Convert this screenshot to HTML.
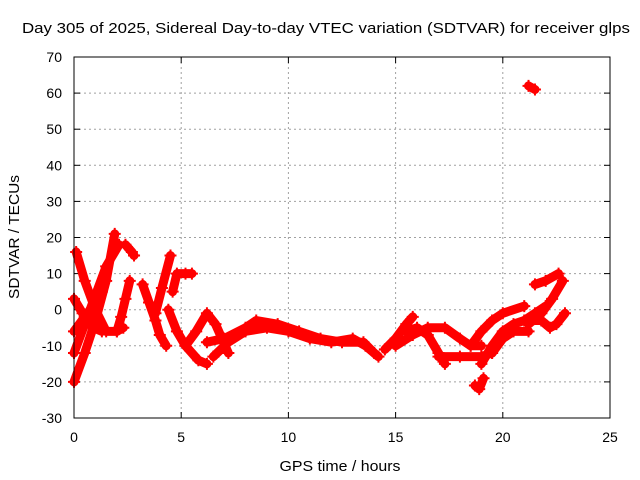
<!DOCTYPE html>
<html><head><meta charset="utf-8"><style>
html,body{margin:0;padding:0;background:#fff;}
svg{display:block;font-family:"Liberation Sans",sans-serif;}
</style></head><body>
<svg id="chart" width="640" height="480">
<text x="22" y="33" font-size="15" textLength="608" lengthAdjust="spacingAndGlyphs">Day 305 of 2025, Sidereal Day-to-day VTEC variation (SDTVAR) for receiver glps</text>
<text x="340" y="471" font-size="15" textLength="121" lengthAdjust="spacingAndGlyphs" text-anchor="middle">GPS time / hours</text>
<text transform="translate(19,237) rotate(-90)" font-size="15" textLength="124" lengthAdjust="spacingAndGlyphs" text-anchor="middle">SDTVAR / TECUs</text>
<g id="grid"></g>
<g id="ticks"></g>
<g id="series"></g>
<rect x="74" y="57" width="536" height="361" fill="none" stroke="#000" stroke-width="1"/>
</svg>
<script>
const xTicks=[0,5,10,15,20,25];
const yTicks=[-30,-20,-10,0,10,20,30,40,50,60,70];
const track1=[[0,-20],[0.5,-12],[1,-3],[1.5,8],[1.9,21]];
const track2=[[0.1,16],[0.5,8],[1,0],[1.5,-6],[2,-6],[2.3,-5]];
const track3=[[0,-12],[0.5,-4],[1,4],[1.5,12],[2.1,18]];
const track4=[[0,3],[0.4,-1],[0.9,-5],[1.3,-6]];
const track5=[[0,-6],[0.5,-2],[1,2],[1.3,5]];
const track6=[[2.0,-6],[2.2,-2],[2.4,3],[2.6,8]];
const track7=[[2.4,18],[2.7,16],[2.8,15]];
const track8=[[3.2,7],[3.5,2],[3.8,-3],[4.0,-7],[4.3,-10]];
const track9=[[3.8,-1],[4.1,6],[4.5,15]];
const track10=[[4.6,5],[4.8,10],[5.2,10],[5.5,10]];
const track11=[[4.4,0],[4.8,-6],[5.2,-10],[5.8,-14],[6.2,-15]];
const track12=[[5.2,-10],[5.7,-6],[6.2,-1],[6.6,-4],[7.2,-12]];
const track13=[[6.2,-9],[7,-8],[8,-5],[8.5,-3],[9.5,-4],[10.5,-6],[11.5,-8],[12.5,-9],[13.5,-9],[14,-12]];
const track14=[[6.5,-13],[7.2,-9],[8,-6],[9,-5],[10,-6],[11,-8],[12,-9],[13,-8],[13.6,-10],[14.2,-13]];
const track15=[[14.5,-11],[15,-8],[15.5,-4],[15.8,-2]];
const track16=[[15,-10],[15.8,-7],[16.5,-5],[17.3,-5],[18,-8],[18.5,-10],[19,-10]];
const track17=[[15.5,-6],[16,-5],[16.5,-7],[17,-12],[17.3,-15]];
const track18=[[17,-13],[18,-13],[19,-13],[19.5,-12]];
const track19=[[18.7,-21],[18.9,-22],[19.1,-19]];
const track20=[[18.5,-10],[19,-6],[19.5,-3],[20,-1],[21,1]];
const track21=[[19,-15],[19.5,-10],[20,-6],[20.5,-4],[21,-3],[21.5,-1],[22,1]];
const track22=[[19.5,-12],[20,-8],[20.5,-6],[21.2,-6]];
const track23=[[21.2,-3],[21.8,-3],[22.2,-5],[22.5,-4],[22.9,-1]];
const track24=[[21.2,-4],[21.8,-1],[22.3,3],[22.8,8]];
const track25=[[21.5,7],[22,8],[22.6,10]];
const track26=[[21.2,62],[21.5,61]];
const tracks=[track1,track2,track3,track4,track5,track6,track7,track8,track9,track10,track11,track12,track13,track14,track15,track16,track17,track18,track19,track20,track21,track22,track23,track24,track25,track26];

const NS="http://www.w3.org/2000/svg";
const X0=74,X1=610,Y0=418,Y1=57;
function sx(v){return X0+(v-0)/(25-0)*(X1-X0);}
function sy(v){return Y0-(v+30)/(100)*(Y0-Y1);}
function mk(tag,attrs,parent){const e=document.createElementNS(NS,tag);for(const k in attrs)e.setAttribute(k,attrs[k]);parent.appendChild(e);return e;}
const grid=document.getElementById('grid'),ticks=document.getElementById('ticks'),series=document.getElementById('series');
xTicks.forEach(t=>{
  const x=sx(t);
  if(t>0&&t<25){const g=mk('line',{x1:x,x2:x,y1:Y1,y2:Y0,stroke:'#a0a0a0','stroke-dasharray':'2,3'},grid);
  
  }
  mk('line',{x1:x,x2:x,y1:Y0,y2:Y0-6,stroke:'#000'},ticks);
  mk('line',{x1:x,x2:x,y1:Y1,y2:Y1+6,stroke:'#000'},ticks);
  const l=mk('text',{x:x,y:Y0+24,'font-size':14,'text-anchor':'middle'},ticks);
  l.textContent=t;
  
  
});
yTicks.forEach(t=>{
  const y=sy(t);
  if(t>-30&&t<70){const g=mk('line',{x1:X0,x2:X1,y1:y,y2:y,stroke:'#a0a0a0','stroke-dasharray':'2,3'},grid);
  
  }
  mk('line',{x1:X0,x2:X0+6,y1:y,y2:y,stroke:'#000'},ticks);
  mk('line',{x1:X1,x2:X1-6,y1:y,y2:y,stroke:'#000'},ticks);
  const l=mk('text',{x:X0-12,y:y+5,'font-size':14,'text-anchor':'end'},ticks);
  l.textContent=t;
  
  
});
tracks.forEach((tr,i)=>{
  const pts=tr.map(p=>sx(p[0])+','+sy(p[1])).join(' ');
  const pl=mk('polyline',{points:pts,fill:'none',stroke:'#ff0000','stroke-width':9,'stroke-linejoin':'round','stroke-linecap':'round'},series);
  
  
  tr.forEach(p=>{
    const x=sx(p[0]),y=sy(p[1]);
    const m=mk('path',{d:`M${x-6},${y}H${x+6}M${x},${y-6}V${y+6}`,stroke:'#ff0000','stroke-width':2},series);
    
    
  });
});
</script>
</body></html>
